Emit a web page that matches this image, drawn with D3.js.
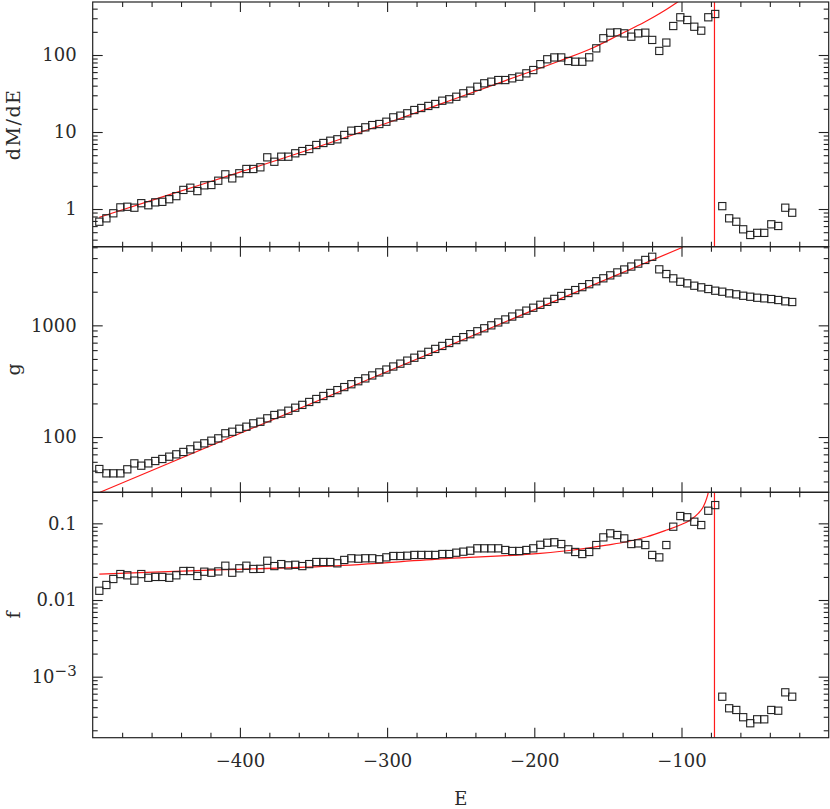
<!DOCTYPE html>
<html>
<head>
<meta charset="utf-8">
<script src="https://cdn.jsdelivr.net/npm/d3@7"></script>
<style>
  body { margin: 0; background: #fff; }
  svg text { font-family: "DejaVu Serif", serif; fill: #2a2a2a; }
</style>
</head>
<body>
<div id="chart"></div>
<script>
// ---------------------------------------------
// data
// ---------------------------------------------

// bin centres in E
const energy = [
  -495.5, -490.7, -486.0, -481.2, -476.5, -471.7, -467.0, -462.2, -457.5, -452.7,
  -448.0, -443.2, -438.4, -433.7, -428.9, -424.2, -419.4, -414.7, -409.9, -405.2,
  -400.4, -395.6, -390.9, -386.1, -381.4, -376.6, -371.9, -367.1, -362.4, -357.6,
  -352.9, -348.1, -343.3, -338.6, -333.8, -329.1, -324.3, -319.6, -314.8, -310.1,
  -305.3, -300.5, -295.8, -291.0, -286.3, -281.5, -276.8, -272.0, -267.3, -262.5,
  -257.8, -253.0, -248.2, -243.5, -238.7, -234.0, -229.2, -224.5, -219.7, -215.0,
  -210.2, -205.4, -200.7, -195.9, -191.2, -186.4, -181.7, -176.9, -172.2, -167.4,
  -162.7, -157.9, -153.1, -148.4, -143.6, -138.9, -134.1, -129.4, -124.6, -119.9,
  -115.1, -110.3, -105.6, -100.8, -96.1, -91.3, -86.6, -81.8, -77.1, -72.3,
  -67.6, -62.8, -58.1, -53.3, -48.6, -43.8, -39.0, -34.3, -29.5, -24.8
];

// top panel : dM/dE
const dMdE = [
  0.684, 0.757, 0.88, 1.05, 1.07, 1.04, 1.19, 1.12, 1.22, 1.24,
  1.34, 1.47, 1.77, 1.89, 1.71, 2.03, 2.05, 2.33, 2.82, 2.5,
  2.91, 3.31, 3.31, 3.48, 4.69, 4.11, 4.78, 4.78, 5.29, 5.66,
  6.01, 6.78, 7.2, 7.7, 8.04, 9.15, 10.4, 10.6, 11.5, 12.3,
  12.7, 13.6, 15.5, 16.3, 17.5, 19.3, 20.5, 21.8, 23.1, 25.5,
  26.6, 28.7, 31.8, 34.4, 38.7, 42.9, 45, 47.3, 47.3, 49.8,
  52.3, 57.8, 63.8, 76, 88, 93, 93, 83.6, 81.8, 81.8,
  93.3, 122, 165, 195, 197, 191, 173, 191, 195, 157,
  113, 145, 238, 309, 285, 233, 207, 309, 341, 1.09,
  0.757, 0.684, 0.545, 0.46, 0.49, 0.49, 0.633, 0.602, 1.04, 0.895
];

// middle panel : g
const gE = [
  51.7, 47.3, 47.3, 47.3, 51.4, 58.1, 55.4, 58.1, 61, 63.6,
  66.7, 70, 73.5, 77.6, 83.6, 87.8, 92.7, 97.3, 108, 111.5,
  118.6, 123.7, 132.6, 137, 147, 157.5, 162, 172, 183, 194,
  206, 219, 233, 248, 263, 280, 297, 316, 335, 356,
  379, 402, 428, 454, 483, 513, 545, 579, 615, 654,
  695, 738, 784, 833, 885, 941, 1000, 1062, 1129, 1199,
  1274, 1354, 1438, 1528, 1624, 1725, 1833, 1948, 2069, 2199,
  2336, 2482, 2637, 2802, 2977, 3163, 3361, 3571, 3850, 4110,
  3172, 2878, 2635, 2455, 2377, 2264, 2189, 2115, 2043, 2001,
  1934, 1895, 1841, 1804, 1767, 1745, 1720, 1686, 1641, 1618
];

// bottom panel : f
const fE = [
  0.0132, 0.0157, 0.0188, 0.0218, 0.021, 0.0179, 0.0218, 0.0195, 0.02, 0.02,
  0.0195, 0.021, 0.0239, 0.0239, 0.0206, 0.0234, 0.0227, 0.0236, 0.028, 0.0227,
  0.0259, 0.028, 0.0254, 0.0255, 0.0325, 0.0277, 0.0294, 0.0283, 0.0288, 0.0277,
  0.0294, 0.0313, 0.0313, 0.0313, 0.0301, 0.0333, 0.035, 0.0346, 0.035, 0.035,
  0.034, 0.036, 0.0375, 0.0375, 0.0378, 0.0387, 0.0387, 0.0387, 0.0387, 0.0398,
  0.0398, 0.0414, 0.0427, 0.044, 0.0472, 0.0472, 0.0472, 0.0472, 0.0449, 0.0436,
  0.0436, 0.0449, 0.0472, 0.0525, 0.0558, 0.0566, 0.0537, 0.0458, 0.0423, 0.0398,
  0.0423, 0.0521, 0.0656, 0.074, 0.0704, 0.0636, 0.0537, 0.0548, 0.0521, 0.0387,
  0.036, 0.0521, 0.0904, 0.1245, 0.12, 0.105, 0.095, 0.146, 0.173, 5.48e-4,
  3.87e-4, 3.68e-4, 2.96e-4, 2.47e-4, 2.78e-4, 2.78e-4, 3.68e-4, 3.6e-4, 6.25e-4, 5.48e-4
];

// model curves (red)
const dMdEFitE = [-495.5, -450, -400, -338.8, -300, -260, -220, -182.5, -160, -141.6, -125, -112, -102.6, -98];
const dMdEFit  = [0.78, 1.49, 3.01, 7.26, 13.1, 24.5, 46.2, 84.3, 124.5, 186, 268, 372, 488, 560];

const gFitE = [-495.0, -99.2];
const gFit  = [32, 5000];

const fFitE = [-495.5, -420, -338.8, -260, -196, -173.5, -150.8, -137.2, -123.6, -110.1, -101, -94.3, -88.6, -85.2, -82.9, -81.8, -81.2];
const fFit  = [0.0218, 0.0245, 0.0277, 0.0346, 0.0406, 0.0449, 0.052, 0.0575, 0.0668, 0.0818, 0.095, 0.11, 0.135, 0.165, 0.212, 0.254, 0.3];

// truncation energy (vertical red line)
const cutE = -77.6;

// tick labels
const xTicks = [-400, -300, -200, -100];
const dMdETicks = [1, 10, 100];
const gTicks = [100, 1000];
const fTicks = [0.1, 0.01, 0.001];

// ---------------------------------------------
// layout
// ---------------------------------------------
let width = 830,
    height = 809,
    left = 92.7,
    right = 828.7,
    edges = [2, 246.7, 492.3, 737.7];

let svg = d3.select('#chart')
  .append('svg')
  .attr('width', width)
  .attr('height', height);

let x = d3.scaleLinear().domain([-500, 0]).range([left, right]);

let panels = [
  { id: 'p1', title: 'dM/dE', values: dMdE, fitE: dMdEFitE, fit: dMdEFit, cut: true,
    domain: [0.324, 488], ticks: dMdETicks },
  { id: 'p2', title: 'g', values: gE, fitE: gFitE, fit: gFit, cut: false,
    domain: [32, 5060], ticks: gTicks },
  { id: 'p3', title: 'f', values: fE, fitE: fFitE, fit: fFit, cut: true,
    domain: [1.6e-4, 0.254], ticks: fTicks }
];

let minorX = x.ticks(25).filter(d => d % 100 !== 0);

panels.forEach(function(p, i) {
  let top = edges[i], bottom = edges[i + 1];
  let y = d3.scaleLog().domain(p.domain).range([bottom, top]);

  let g = svg.append('g').attr('class', p.id);

  // clip to the frame
  g.append('clipPath').attr('id', 'clip-' + p.id)
    .append('rect')
    .attr('x', left).attr('y', top)
    .attr('width', right - left).attr('height', bottom - top);

  let body = g.append('g').attr('clip-path', 'url(#clip-' + p.id + ')');

  // model curve
  let line = d3.line()
    .x((d, k) => x(p.fitE[k]))
    .y(d => y(d))
    .curve(d3.curveMonotoneX);

  body.append('path')
    .datum(p.fit)
    .attr('d', line)
    .attr('fill', 'none')
    .attr('stroke', '#ff1a1a')
    .attr('stroke-width', 1.2);

  if (p.cut) {
    body.append('line')
      .attr('x1', x(cutE)).attr('x2', x(cutE))
      .attr('y1', top).attr('y2', bottom)
      .attr('stroke', '#ff1a1a')
      .attr('stroke-width', 1.2);
  }

  // data squares
  body.selectAll('rect.pt')
    .data(p.values)
    .enter().append('rect')
    .attr('class', 'pt')
    .attr('x', (d, k) => x(energy[k]) - 3.6)
    .attr('y', d => y(d) - 3.6)
    .attr('width', 7.2)
    .attr('height', 7.2)
    .attr('fill', 'none')
    .attr('stroke', '#222')
    .attr('stroke-width', 1.1);

  // ---------------------------------------------
  // axes: inward ticks on all four sides
  // ---------------------------------------------
  let minorY = y.ticks().filter(d => p.ticks.indexOf(d) < 0 && d >= p.domain[0] && d <= p.domain[1]);

  let yLeft = g.append('g')
    .attr('transform', 'translate(' + left + ',0)')
    .call(d3.axisLeft(y).tickValues(p.ticks).tickSize(-10).tickPadding(16)
      .tickFormat(d => d === 0.001 ? '' : String(d)));
  g.append('g')
    .attr('transform', 'translate(' + left + ',0)')
    .call(d3.axisLeft(y).tickValues(minorY).tickSize(-5).tickFormat(''));
  g.append('g')
    .attr('transform', 'translate(' + right + ',0)')
    .call(d3.axisRight(y).tickValues(p.ticks).tickSize(-10).tickFormat(''));
  g.append('g')
    .attr('transform', 'translate(' + right + ',0)')
    .call(d3.axisRight(y).tickValues(minorY).tickSize(-5).tickFormat(''));

  // 10^-3 label
  yLeft.selectAll('.tick').filter(d => d === 0.001).select('text')
    .each(function() {
      let t = d3.select(this);
      t.append('tspan').text('10');
      t.append('tspan').attr('dy', '-0.45em').attr('font-size', '15px').text('\u22123');
    });

  g.append('g')
    .attr('transform', 'translate(0,' + top + ')')
    .call(d3.axisTop(x).tickValues(xTicks).tickSize(-10).tickFormat(''));
  g.append('g')
    .attr('transform', 'translate(0,' + top + ')')
    .call(d3.axisTop(x).tickValues(minorX).tickSize(-5).tickFormat(''));
  g.append('g')
    .attr('transform', 'translate(0,' + bottom + ')')
    .call(d3.axisBottom(x).tickValues(xTicks).tickSize(-10).tickPadding(17)
      .tickFormat(d => i === 2 ? String(d).replace('-', '\u2212') : ''));
  g.append('g')
    .attr('transform', 'translate(0,' + bottom + ')')
    .call(d3.axisBottom(x).tickValues(minorX).tickSize(-5).tickFormat(''));

  g.selectAll('.domain').remove();
  g.selectAll('.tick line').attr('stroke', '#222').attr('stroke-width', 1.1);
  g.selectAll('.tick text')
    .attr('font-family', '"DejaVu Serif", serif')
    .attr('font-size', 18)
    .attr('fill', '#2a2a2a');

  // frame
  g.append('rect')
    .attr('x', left).attr('y', top)
    .attr('width', right - left).attr('height', bottom - top)
    .attr('fill', 'none')
    .attr('stroke', '#222')
    .attr('stroke-width', 1.2);

  // y title
  g.append('text')
    .attr('transform', 'translate(20,' + ((top + bottom) / 2) + ') rotate(-90)')
    .attr('text-anchor', 'middle')
    .attr('font-size', 19)
    .attr('letter-spacing', p.title.length > 1 ? '1.5px' : 0)
    .text(p.title);
});

// x title
svg.append('text')
  .attr('x', (left + right) / 2)
  .attr('y', 805)
  .attr('text-anchor', 'middle')
  .attr('font-size', 18)
  .text('E');
</script>
</body>
</html>
